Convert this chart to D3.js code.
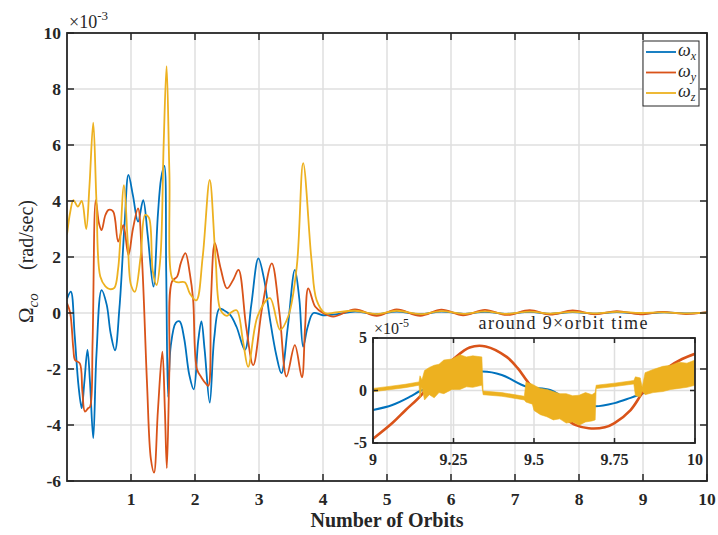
<!DOCTYPE html>
<html>
<head>
<meta charset="utf-8">
<script src="https://cdn.jsdelivr.net/npm/d3@7"></script>
<style>
  body { margin: 0; background: #fff; }
  svg { display: block; }
  text { font-family: "Liberation Serif", "Times New Roman", serif; fill: #262626; }
</style>
</head>
<body>
<div id="chart"></div>
<script>
//******************************************************************************
//**  Data (angular velocity, x = orbits, main y in 1e-3 rad/s, inset y in 1e-5)
//******************************************************************************
var xTicks = [1, 2, 3, 4, 5, 6, 7, 8, 9, 10];
var yTicks = [-6, -4, -2, 0, 2, 4, 6, 8, 10];
var insetXTicks = [9, 9.25, 9.5, 9.75, 10];
var insetYTicks = [-5, 0, 5];
var seriesNames = ["x", "y", "z"];
var seriesColors = ["#0072BD", "#D95319", "#EDB120"];

var wx = [
  [0, 0.5], [0.06, 0.76], [0.12, -0.8], [0.18, -2.6], [0.23, -3.4], [0.27, -2.5],
  [0.32, -1.32], [0.36, -2.5], [0.41, -4.47], [0.46, -1.5], [0.54, 0.82], [0.62, 0.3],
  [0.68, -0.7], [0.75, -1.33], [0.82, 0.2], [0.9, 3.2], [0.96, 4.93], [1.03, 4.2],
  [1.11, 3.26], [1.19, 4.03], [1.26, 2.8], [1.35, 0.94], [1.42, 3.5], [1.47, 4.8],
  [1.52, 5.25], [1.55, 1.5], [1.58, -3.0], [1.62, -1.2], [1.7, -0.35], [1.76, -0.3],
  [1.83, -0.9], [1.91, -2.2], [1.98, -2.73], [2.05, -1.0], [2.1, -0.3], [2.15, -1.3],
  [2.23, -3.2], [2.3, -0.9], [2.38, 0.15], [2.45, 0.1], [2.55, -0.07], [2.65, -0.5],
  [2.78, -1.32], [2.88, 0.3], [2.99, 1.95], [3.08, 1.2], [3.17, -0.2], [3.27, -1.5],
  [3.35, -2.15], [3.45, -0.5], [3.56, 1.54], [3.63, 0.5], [3.69, -1.2], [3.76, -0.5],
  [3.85, 0.0], [4.0, -0.08], [4.2, -0.05], [4.5, 0.05], [4.84, -0.04], [5.15, 0.05],
  [5.52, -0.04], [5.85, 0.05], [6.19, -0.03], [6.53, 0.04], [6.87, -0.03], [7.23, 0.04],
  [7.55, -0.03], [7.9, 0.03], [8.25, -0.02], [8.59, 0.03], [8.96, -0.02], [9.33, 0.02],
  [9.69, -0.015], [10, 0.012]
];

var wy = [
  [0, 0.35], [0.05, 0.0], [0.1, -1.3], [0.125, -1.68], [0.2, -1.8], [0.24, -2.8],
  [0.28, -3.52], [0.33, -3.4], [0.36, -3.35], [0.4, -1.0], [0.45, 4.03], [0.5, 3.2],
  [0.54, 2.96], [0.6, 3.5], [0.65, 3.68], [0.72, 3.63], [0.8, 2.55], [0.88, 3.14],
  [0.96, 2.07], [1.03, 3.0], [1.11, 3.74], [1.17, 2.0], [1.25, -2.5], [1.31, -5.2],
  [1.36, -5.7], [1.42, -3.5], [1.49, -1.38], [1.53, -3.5], [1.56, -5.54], [1.6, -2.0],
  [1.64, 1.12], [1.72, 1.3], [1.78, 1.8], [1.85, 2.14], [1.92, 1.4], [1.97, 0.5],
  [2.03, -2.0], [2.1, -2.3], [2.18, -2.55], [2.21, -2.6], [2.25, 0.5], [2.31, 2.5],
  [2.4, 1.6], [2.5, 0.88], [2.6, 1.2], [2.68, 1.54], [2.8, -0.5], [2.91, -1.86],
  [3.05, 0.2], [3.2, 1.77], [3.32, 0.0], [3.43, -2.27], [3.56, -1.15], [3.67, -2.3],
  [3.72, -0.5], [3.77, 0.88], [3.88, 0.22], [4.0, 0.0], [4.16, -0.13], [4.5, 0.13],
  [4.84, -0.1], [5.15, 0.13], [5.52, -0.1], [5.85, 0.12], [6.19, -0.08], [6.53, 0.11],
  [6.87, -0.07], [7.23, 0.1], [7.55, -0.06], [7.9, 0.09], [8.25, -0.05], [8.59, 0.07],
  [8.96, -0.046], [9.3, 0.043], [9.67, -0.036], [10, 0.035]
];

var wz = [
  [0, 2.8], [0.05, 3.6], [0.1, 4.03], [0.17, 3.8], [0.23, 4.0], [0.3, 3.0],
  [0.35, 4.5], [0.41, 6.8], [0.46, 4.0], [0.52, 1.3], [0.6, 0.95], [0.67, 0.85],
  [0.74, 0.9], [0.8, 1.6], [0.89, 4.57], [0.95, 2.5], [1.0, 1.0], [1.06, 0.76],
  [1.15, 2.0], [1.22, 3.5], [1.28, 3.4], [1.34, 1.5], [1.4, 1.0], [1.46, 2.0],
  [1.51, 6.0], [1.556, 8.82], [1.6, 5.0], [1.65, 1.2], [1.72, 1.1], [1.84, 1.1],
  [1.92, 0.7], [2.02, 0.45], [2.12, 2.0], [2.23, 4.75], [2.32, 2.0], [2.4, 0.1],
  [2.5, -0.1], [2.55, 0.0], [2.65, 0.1], [2.75, -1.0], [2.83, -1.92], [2.98, -0.1],
  [3.17, 0.53], [3.33, -0.6], [3.46, -0.1], [3.59, 1.65], [3.69, 5.35], [3.82, 1.9],
  [3.9, 0.46], [4.03, 0.0], [4.2, 0.02], [4.5, 0.08], [4.84, -0.04], [5.15, 0.08],
  [5.52, -0.04], [5.85, 0.07], [6.19, -0.03], [6.53, 0.06], [6.87, -0.03], [7.23, 0.05],
  [7.55, -0.02], [7.9, 0.04], [8.25, -0.01], [8.59, 0.04], [8.96, 0.0], [9.3, 0.02],
  [9.67, -0.01], [10, 0.01]
];

// inset, around 9 x orbit time
var insetWx = [
  [9.0, -1.86], [9.06, -1.38], [9.115, -0.59], [9.146, -0.05], [9.2, 0.6], [9.25, 1.15],
  [9.3, 1.6], [9.34, 1.8], [9.4, 1.48], [9.476, 0.37], [9.55, 0.05], [9.6, -0.8],
  [9.65, -1.3], [9.69, -1.5], [9.75, -1.2], [9.8, -0.7], [9.85, -0.15], [9.9, 0.37],
  [9.95, 0.8], [10, 1.2]
];
var insetWy = [
  [9.0, -4.6], [9.06, -3.1], [9.1, -1.9], [9.15, -0.43], [9.2, 1.6], [9.25, 3.0],
  [9.3, 4.1], [9.35, 4.2], [9.415, 3.2], [9.45, 2.1], [9.48, 0.84], [9.52, -0.6],
  [9.59, -2.5], [9.63, -3.3], [9.67, -3.6], [9.72, -3.5], [9.75, -3.1], [9.8, -1.86],
  [9.84, -0.1], [9.88, 1.2], [9.92, 2.27], [9.96, 3.0], [10, 3.5]
];
// yellow is a fast oscillation: [orbit, low envelope, high envelope]
var insetWz = [
  [9.0, -0.12, 0.2], [9.05, 0.07, 0.39], [9.1, 0.27, 0.59], [9.143, 0.5, 0.82],
  [9.146, -0.7, 1.4], [9.152, 0.3, 1.0], [9.16, -0.9, 1.9], [9.175, -0.4, 2.2],
  [9.19, -0.7, 2.4], [9.205, -0.2, 2.5], [9.22, -0.3, 2.9], [9.245, 0.1, 3.0],
  [9.27, 0.1, 3.4], [9.29, 0.35, 3.2], [9.31, 0.3, 3.3], [9.338, 0.5, 3.2],
  [9.342, -0.4, -0.05], [9.4, -0.55, -0.2], [9.47, -0.9, -0.55], [9.475, -1.1, 0.8],
  [9.495, -1.3, 0.6], [9.5, -1.9, 0.5], [9.52, -2.3, 0.2], [9.54, -2.5, 0.1],
  [9.56, -2.8, -0.1], [9.58, -2.7, -0.3], [9.6, -3.1, -0.3], [9.62, -3.0, -0.5],
  [9.64, -3.3, -0.45], [9.66, -3.0, -0.2], [9.68, -2.9, -0.4], [9.69, -2.8, -0.2],
  [9.693, 0.18, 0.5], [9.75, 0.38, 0.7], [9.81, 0.62, 0.95], [9.815, -0.5, 1.3],
  [9.83, -0.6, 1.2], [9.836, -0.05, 0.3], [9.845, -0.4, 1.7], [9.87, -0.2, 2.0],
  [9.9, -0.1, 2.3], [9.925, 0.1, 2.4], [9.95, 0.2, 2.7], [9.975, 0.3, 2.6],
  [10, 0.5, 2.9]
];

//******************************************************************************
//**  Chart
//******************************************************************************
var width = 718, height = 535;
var gridColor = "#dfdfdf", axisColor = "#262626";

var svg = d3.select("#chart").append("svg")
  .attr("width", width)
  .attr("height", height);

var x = d3.scaleLinear().domain([0, 10]).range([67, 707]);
var y = d3.scaleLinear().domain([-6, 10]).range([481, 33]);

svg.append("defs").append("clipPath").attr("id", "mainClip")
  .append("rect").attr("x", 67).attr("y", 33).attr("width", 640).attr("height", 448);

// grid
var grid = svg.append("g");
grid.selectAll(".gx").data(xTicks.slice(0, -1)).enter().append("line")
  .attr("x1", function(d){ return x(d); }).attr("x2", function(d){ return x(d); })
  .attr("y1", y(10)).attr("y2", y(-6))
  .attr("stroke", gridColor).attr("stroke-width", 1.5);
grid.selectAll(".gy").data(yTicks.slice(1, -1)).enter().append("line")
  .attr("x1", x(0)).attr("x2", x(10))
  .attr("y1", function(d){ return y(d); }).attr("y2", function(d){ return y(d); })
  .attr("stroke", gridColor).attr("stroke-width", 1.5);

// lines
var line = d3.line()
  .x(function(d){ return x(d[0]); })
  .y(function(d){ return y(d[1]); })
  .curve(d3.curveCatmullRom.alpha(0.5));

var plot = svg.append("g").attr("clip-path", "url(#mainClip)");
[wx, wy, wz].forEach(function(s, i){
  plot.append("path").datum(s)
    .attr("d", line)
    .attr("fill", "none")
    .attr("stroke", seriesColors[i])
    .attr("stroke-width", 1.8)
    .attr("stroke-linejoin", "round");
});

// axes with inward ticks on all sides
var addAxes = function(g, xs, ys, xt, yt, tickLen, fontSize, xFmt){
  var x0 = xs.range()[0], x1 = xs.range()[1];
  var y0 = ys.range()[0], y1 = ys.range()[1];
  g.append("rect")
    .attr("x", x0).attr("y", y1).attr("width", x1 - x0).attr("height", y0 - y1)
    .attr("fill", "none").attr("stroke", axisColor).attr("stroke-width", 1.8);
  xt.forEach(function(t){
    g.append("line").attr("x1", xs(t)).attr("x2", xs(t)).attr("y1", y0).attr("y2", y0 - tickLen)
      .attr("stroke", axisColor).attr("stroke-width", 1.5);
    g.append("line").attr("x1", xs(t)).attr("x2", xs(t)).attr("y1", y1).attr("y2", y1 + tickLen)
      .attr("stroke", axisColor).attr("stroke-width", 1.5);
    g.append("text").attr("x", xs(t)).attr("y", y0 + fontSize + 6)
      .attr("text-anchor", "middle").attr("font-weight", "bold").attr("font-size", fontSize)
      .text(xFmt(t));
  });
  yt.forEach(function(t){
    g.append("line").attr("x1", x0).attr("x2", x0 + tickLen).attr("y1", ys(t)).attr("y2", ys(t))
      .attr("stroke", axisColor).attr("stroke-width", 1.5);
    g.append("line").attr("x1", x1).attr("x2", x1 - tickLen).attr("y1", ys(t)).attr("y2", ys(t))
      .attr("stroke", axisColor).attr("stroke-width", 1.5);
    g.append("text").attr("x", x0 - 6).attr("y", ys(t) + fontSize * 0.33)
      .attr("text-anchor", "end").attr("font-weight", "bold").attr("font-size", fontSize)
      .text(t);
  });
};

addAxes(svg.append("g"), x, y, xTicks, yTicks, 7, 17.5, function(d){ return d; });

// exponent label
var ex = svg.append("text").attr("x", 69).attr("y", 28).attr("font-size", 18);
ex.append("tspan").text("\u00d710");
ex.append("tspan").attr("dy", -8).attr("font-size", 13).text("-3");

// axis labels
svg.append("text")
  .attr("x", x(5)).attr("y", 527)
  .attr("text-anchor", "middle").attr("font-weight", "bold").attr("font-size", 20)
  .text("Number of Orbits");

var yl = svg.append("g")
  .attr("transform", "translate(33,323) rotate(-90)");
var ylSym = yl.append("text").attr("font-size", 21);
ylSym.append("tspan").text("\u03a9");
ylSym.append("tspan").attr("dy", 5).attr("font-size", 15).attr("font-style", "italic").text("co");
yl.append("text").attr("x", 53).attr("font-size", 21)
  .attr("textLength", 70).attr("lengthAdjust", "spacingAndGlyphs")
  .text("(rad/sec)");

// legend
var legend = svg.append("g");
legend.append("rect").attr("x", 643).attr("y", 41).attr("width", 56).attr("height", 65)
  .attr("fill", "#fff").attr("stroke", axisColor).attr("stroke-width", 1);
seriesNames.forEach(function(n, i){
  var ly = 52 + i * 20.5;
  legend.append("line").attr("x1", 646).attr("x2", 676).attr("y1", ly).attr("y2", ly)
    .attr("stroke", seriesColors[i]).attr("stroke-width", 1.8);
  var t = legend.append("text").attr("x", 678).attr("y", ly + 4).attr("font-size", 18)
    .attr("font-style", "italic");
  t.append("tspan").text("\u03c9");
  t.append("tspan").attr("dy", 4).attr("font-size", 12).text(n);
});

//******************************************************************************
//**  Inset
//******************************************************************************
var ix = d3.scaleLinear().domain([9, 10]).range([373, 695]);
var iy = d3.scaleLinear().domain([-5, 5]).range([443, 338]);

svg.append("defs").append("clipPath").attr("id", "insetClip")
  .append("rect").attr("x", 373).attr("y", 338).attr("width", 322).attr("height", 105);

var inset = svg.append("g");
insetXTicks.slice(1, -1).forEach(function(t){
  inset.append("line").attr("x1", ix(t)).attr("x2", ix(t)).attr("y1", 338).attr("y2", 443)
    .attr("stroke", gridColor).attr("stroke-width", 1.5);
});
insetYTicks.slice(1, -1).forEach(function(t){
  inset.append("line").attr("x1", 373).attr("x2", 695).attr("y1", iy(t)).attr("y2", iy(t))
    .attr("stroke", gridColor).attr("stroke-width", 1.5);
});

var iline = d3.line()
  .x(function(d){ return ix(d[0]); })
  .y(function(d){ return iy(d[1]); })
  .curve(d3.curveCatmullRom.alpha(0.5));
var iarea = d3.area()
  .x(function(d){ return ix(d[0]); })
  .y0(function(d){ return iy(d[1]); })
  .y1(function(d){ return iy(d[2]); });

var iplot = inset.append("g").attr("clip-path", "url(#insetClip)");
iplot.append("path").datum(insetWx).attr("d", iline)
  .attr("fill", "none").attr("stroke", seriesColors[0]).attr("stroke-width", 2);
iplot.append("path").datum(insetWy).attr("d", iline)
  .attr("fill", "none").attr("stroke", seriesColors[1]).attr("stroke-width", 2.6);
iplot.append("path").datum(insetWz).attr("d", iarea)
  .attr("fill", seriesColors[2]).attr("stroke", seriesColors[2]).attr("stroke-width", 0.6);

addAxes(inset, ix, iy, insetXTicks, insetYTicks, 5, 16, function(d){ return d; });

var iex = svg.append("text").attr("x", 374).attr("y", 334).attr("font-size", 16);
iex.append("tspan").text("\u00d710");
iex.append("tspan").attr("dy", -7).attr("font-size", 12).text("-5");

svg.append("text")
  .attr("x", 563).attr("y", 329)
  .attr("text-anchor", "middle").attr("font-size", 18)
  .attr("textLength", 169).attr("lengthAdjust", "spacing")
  .text("around 9\u00d7orbit time");
</script>
</body>
</html>
